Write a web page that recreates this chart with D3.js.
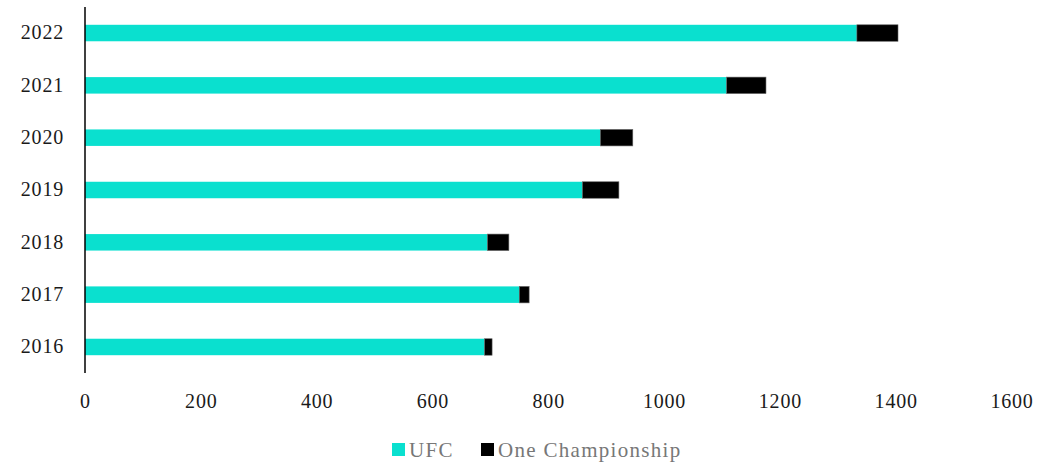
<!DOCTYPE html>
<html>
<head>
<meta charset="utf-8">
<script src="https://cdn.jsdelivr.net/npm/d3@7"></script>
<style>
  body { margin: 0; background: #fff; }
  svg text { font-family: "Liberation Serif", "DejaVu Serif", serif; }
</style>
</head>
<body>
<div id="chart"></div>
<script>
// data
let years = ["2022", "2021", "2020", "2019", "2018", "2017", "2016"];
let ufc = [1333, 1108, 890, 859, 695, 750, 690];
let oneChamp = [71, 68, 56, 63, 37, 17, 13];
let xTicks = [0, 200, 400, 600, 800, 1000, 1200, 1400, 1600];
let seriesNames = ["UFC", "One Championship"];
let seriesColors = ["#0ae0cf", "#000000"];

let width = 1059, height = 468;
let margin = {top: 7, right: 48, bottom: 95, left: 85};
let serif = "'Liberation Serif', 'DejaVu Serif', serif";

let svg = d3.select("#chart").append("svg")
    .attr("width", width)
    .attr("height", height);

let x = d3.scaleLinear()
    .domain([0, 1600])
    .range([margin.left, margin.left + 926.5]);

let y = d3.scaleBand()
    .domain(years)
    .range([margin.top, height - margin.bottom])
    .paddingInner(0.685)
    .paddingOuter(0.34);

// stacked rows
let rows = years.map(function (yr, i) {
    return {year: yr, UFC: ufc[i], "One Championship": oneChamp[i]};
});
let stacked = d3.stack().keys(seriesNames)(rows);

svg.selectAll("g.series")
    .data(stacked)
    .enter().append("g")
    .attr("class", "series")
    .attr("fill", function (d, i) { return seriesColors[i]; })
    .attr("stroke", function (d, i) { return i === 1 ? "#666" : "none"; })
    .attr("stroke-width", 0.6)
    .selectAll("rect")
    .data(function (d) { return d; })
    .enter().append("rect")
    .attr("x", function (d) { return x(d[0]); })
    .attr("y", function (d) { return y(d.data.year); })
    .attr("width", function (d) { return x(d[1]) - x(d[0]); })
    .attr("height", y.bandwidth());

// y axis (line + year labels)
let yAxis = svg.append("g")
    .attr("transform", "translate(" + x(0) + ",0)")
    .call(d3.axisLeft(y).tickSize(0).tickPadding(21));
yAxis.attr("font-family", serif).attr("font-size", 20).attr("letter-spacing", 0.8);
yAxis.select(".domain")
    .attr("stroke", "#000")
    .attr("stroke-width", 1.5)
    .attr("d", "M0," + margin.top + "V" + (height - margin.bottom));
yAxis.selectAll("text").attr("fill", "#1a1a1a");

// x axis labels only
let xAxis = svg.append("g")
    .attr("transform", "translate(0," + (height - margin.bottom) + ")")
    .call(d3.axisBottom(x).tickValues(xTicks).tickFormat(d3.format("d")).tickSize(0).tickPadding(21));
xAxis.attr("font-family", serif).attr("font-size", 20).attr("letter-spacing", 0.8);
xAxis.select(".domain").remove();
xAxis.selectAll("text").attr("fill", "#1a1a1a");

// legend
let legendX = [392, 481];
let legend = svg.append("g").attr("font-family", serif);
seriesNames.forEach(function (name, i) {
    legend.append("rect")
        .attr("x", legendX[i])
        .attr("y", 443)
        .attr("width", 13)
        .attr("height", 13)
        .attr("fill", seriesColors[i]);
    legend.append("text")
        .attr("x", legendX[i] + 17)
        .attr("y", 457)
        .attr("font-size", 21)
        .attr("letter-spacing", 1.3)
        .attr("fill", "#777")
        .text(name);
});
</script>
</body>
</html>
